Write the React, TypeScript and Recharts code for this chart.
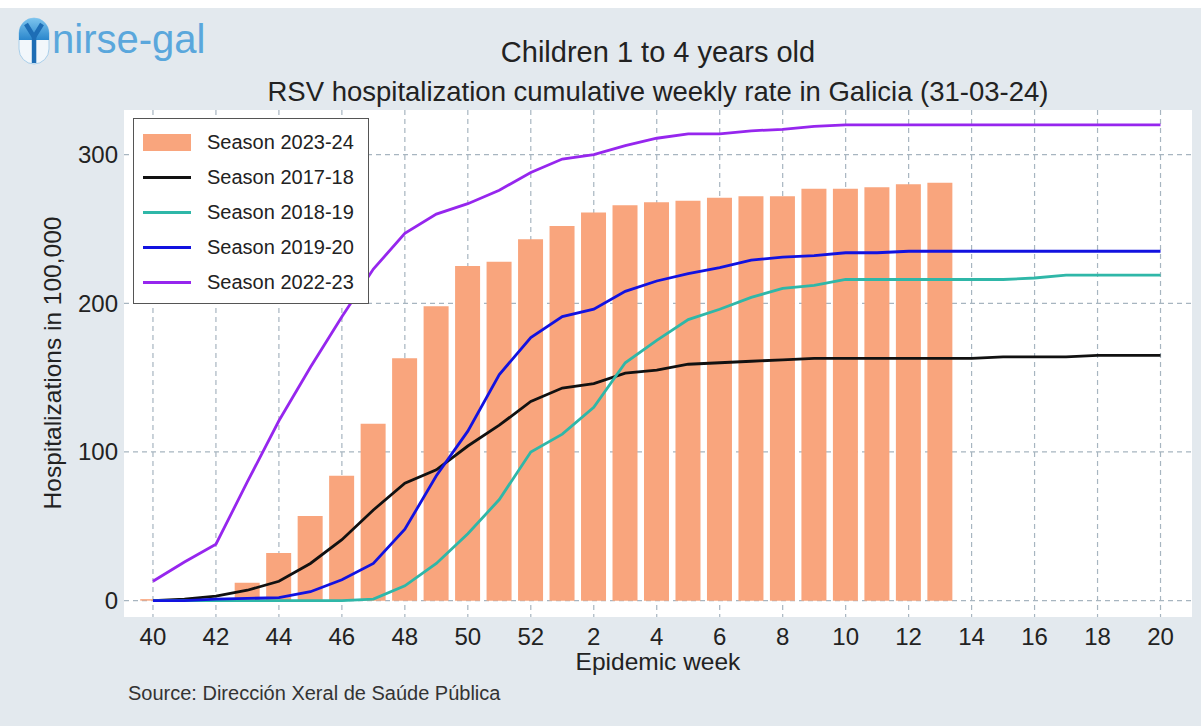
import React from "react";
import {
  ComposedChart,
  Bar,
  Line,
  XAxis,
  YAxis,
  CartesianGrid,
} from "recharts";

// epidemic weeks shown on the x axis (season runs week 40 -> week 20)
const weeks = [40, 41, 42, 43, 44, 45, 46, 47, 48, 49, 50, 51, 52, 1, 2, 3, 4, 5, 6, 7, 8, 9, 10, 11, 12, 13, 14, 15, 16, 17, 18, 19, 20];

// cumulative rate per 100,000
const season2324 = [1, 1, 1, 12, 32, 57, 84, 119, 163, 198, 225, 228, 243, 252, 261, 266, 268, 269, 271, 272, 272, 277, 277, 278, 280, 281];
const season1718 = [0, 1, 3, 7, 13, 25, 41, 61, 79, 88, 104, 118, 134, 143, 146, 153, 155, 159, 160, 161, 162, 163, 163, 163, 163, 163, 163, 164, 164, 164, 165, 165, 165];
const season1819 = [0, 0, 0, 0, 0, 0, 0, 1, 10, 25, 45, 68, 100, 112, 130, 160, 175, 189, 196, 204, 210, 212, 216, 216, 216, 216, 216, 216, 217, 219, 219, 219, 219];
const season1920 = [0, 0, 1, 1.5, 2, 6, 14, 25, 48, 84, 114, 152, 177, 191, 196, 208, 215, 220, 224, 229, 231, 232, 234, 234, 235, 235, 235, 235, 235, 235, 235, 235, 235];
const season2223 = [13, 26, 38, 80, 121, 157, 191, 223, 247, 260, 267, 276, 288, 297, 300, 306, 311, 314, 314, 316, 317, 319, 320, 320, 320, 320, 320, 320, 320, 320, 320, 320, 320];

const yTicks = [0, 100, 200, 300];
const xTicks = weeks.map((_, i) => i).filter((i) => i % 2 === 0);
const xDomain: [number, number] = [-0.92, 33];
const yDomain: [number, number] = [-11, 330];

const legendItems = [
  { name: "Season 2023-24", color: "#f9a57d", bar: true },
  { name: "Season 2017-18", color: "#111111" },
  { name: "Season 2018-19", color: "#2fb7a8" },
  { name: "Season 2019-20", color: "#1212e0" },
  { name: "Season 2022-23", color: "#9626ee" },
];

const data = weeks.map((w, i) => ({
  idx: i,
  week: w,
  s2324: season2324[i] ?? null,
  s1718: season1718[i],
  s1819: season1819[i],
  s1920: season1920[i],
  s2223: season2223[i],
}));

const FONT = "'Liberation Sans', Arial, sans-serif";
const tickStyle = { fontSize: 24, fill: "#222", fontFamily: FONT };

// map a value through the axis scale handed to the grid generators
function scaleOf(axis: any, v: number, fallback: () => number) {
  const s = axis && axis.scale;
  if (typeof s === "function") return s(v);
  if (s && typeof s.map === "function") return s.map(v);
  return fallback();
}

export default function App() {
  return (
    <div style={{ position: "absolute", left: 0, top: 0, width: 1201, height: 726, background: "#fff", overflow: "hidden" }}>
      <div style={{ position: "absolute", left: 0, top: 8, width: 1201, height: 718, background: "#e3e9ee" }} />

      <div style={{ position: "absolute", left: 0, top: 0 }}>
        <ComposedChart
          width={1201}
          height={726}
          data={data}
          margin={{ top: 110, right: 9, bottom: 69, left: 64 }}
        >
          <CartesianGrid
            fill="#ffffff"
            stroke="#a7b5c0"
            strokeDasharray="5 4"
            strokeWidth={1.2}
            horizontalCoordinatesGenerator={({ yAxis, offset }: any) =>
              yTicks.map((t) =>
                scaleOf(yAxis, t, () => offset.top + ((yDomain[1] - t) / (yDomain[1] - yDomain[0])) * offset.height)
              )
            }
            verticalCoordinatesGenerator={({ xAxis, offset }: any) =>
              xTicks.map((t) =>
                scaleOf(xAxis, t, () => offset.left + ((t - xDomain[0]) / (xDomain[1] - xDomain[0])) * offset.width)
              )
            }
          />
          <XAxis
            dataKey="idx"
            type="number"
            domain={xDomain}
            ticks={xTicks}
            tickFormatter={(i) => String(weeks[i])}
            interval={0}
            height={40}
            axisLine={false}
            tickLine={false}
            tickSize={6}
            tickMargin={5}
            tick={tickStyle}
          />
          <YAxis
            type="number"
            domain={yDomain}
            ticks={yTicks}
            width={60}
            axisLine={false}
            tickLine={false}
            tickSize={4}
            tickMargin={2}
            tick={tickStyle}
          />
          <Bar dataKey="s2324" fill="#f9a57d" barSize={25} isAnimationActive={false} />
          <Line dataKey="s1718" stroke="#111111" strokeWidth={2.8} dot={false} type="linear" isAnimationActive={false} />
          <Line dataKey="s1819" stroke="#2fb7a8" strokeWidth={2.8} dot={false} type="linear" isAnimationActive={false} />
          <Line dataKey="s1920" stroke="#1212e0" strokeWidth={2.8} dot={false} type="linear" isAnimationActive={false} />
          <Line dataKey="s2223" stroke="#9626ee" strokeWidth={2.8} dot={false} type="linear" isAnimationActive={false} />
        </ComposedChart>
      </div>

      {/* legend box */}
      <div
        style={{
          position: "absolute",
          left: 133,
          top: 118,
          width: 234,
          height: 184,
          background: "#fff",
          border: "1.5px solid #555",
          fontFamily: FONT,
        }}
      >
        {legendItems.map((it, i) => (
          <div
            key={it.name}
            style={{ position: "absolute", left: 0, top: 6 + i * 35, height: 35, display: "flex", alignItems: "center" }}
          >
            <span
              style={{
                marginLeft: 9,
                width: 48,
                height: it.bar ? 17 : 3,
                background: it.color,
                display: "inline-block",
              }}
            />
            <span style={{ marginLeft: 16, fontSize: 20, color: "#222", whiteSpace: "nowrap" }}>{it.name}</span>
          </div>
        ))}
      </div>

      {/* texts */}
      <svg width={1201} height={726} style={{ position: "absolute", left: 0, top: 0, pointerEvents: "none" }}>
        <defs>
          <linearGradient id="capTop" x1="0" y1="0" x2="0" y2="1">
            <stop offset="0" stopColor="#7cc4ee" />
            <stop offset="1" stopColor="#2a86cc" />
          </linearGradient>
        </defs>
        <g transform="translate(18,17)">
          <rect x={1} y={1} width={30} height={46} rx={15} fill="#f2f7fb" stroke="#a9cfea" strokeWidth={1} />
          <path d="M1 16 A15 15 0 0 1 31 16 L31 23 L1 23 Z" fill="url(#capTop)" />
          <path d="M8 7 L16 20 L24 7" stroke="#1d6db5" strokeWidth={4.5} fill="none" />
          <rect x={13.8} y={18} width={4.5} height={28} fill="#1d6db5" />
        </g>
        <text x={52} y={53} fontSize={40} fill="#5aa7dc" fontFamily={FONT}>nirse-gal</text>

        <text x={658} y={62} fontSize={29} fill="#222" fontFamily={FONT} textAnchor="middle">Children 1 to 4 years old</text>
        <text x={658} y={101} fontSize={27.5} fill="#222" fontFamily={FONT} textAnchor="middle">
          RSV hospitalization cumulative weekly rate in Galicia (31-03-24)
        </text>

        <text x={61} y={363} fontSize={24.5} fill="#222" fontFamily={FONT} textAnchor="middle" transform="rotate(-90 61 363)">
          Hospitalizations in 100,000
        </text>
        <text x={658} y={670} fontSize={24.5} fill="#222" fontFamily={FONT} textAnchor="middle">Epidemic week</text>
        <text x={128} y={700} fontSize={20} fill="#333" fontFamily={FONT}>Source: Dirección Xeral de Saúde Pública</text>
      </svg>
    </div>
  );
}
